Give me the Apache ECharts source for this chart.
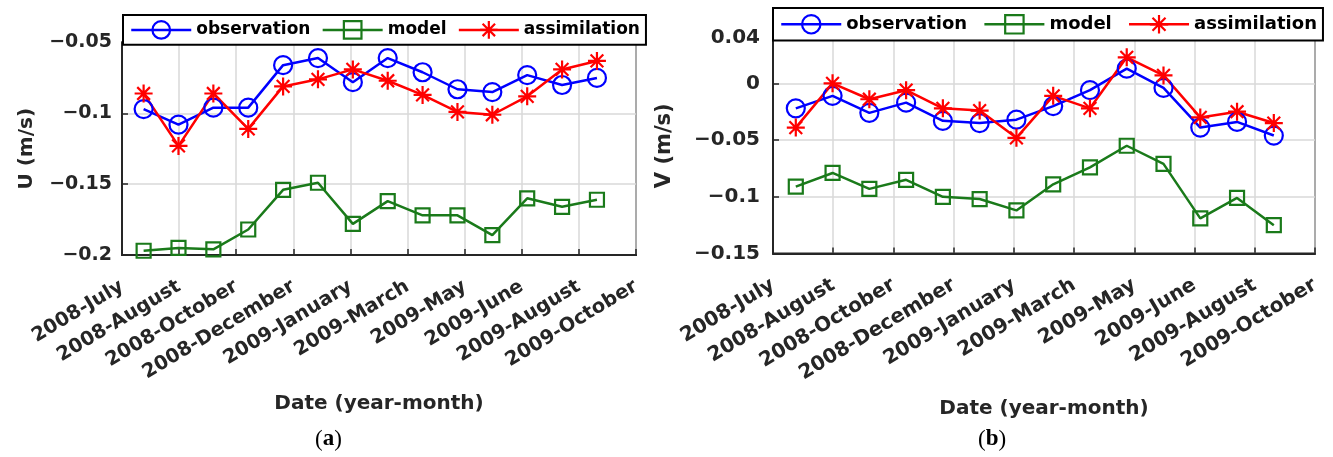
<!DOCTYPE html>
<html lang="en">
<head>
    <meta charset="UTF-8">
    <title>U and V: observation, model, assimilation</title>
    <style>
        html, body { margin: 0; padding: 0; background: #fff; }
        #main { width: 1333px; height: 457px; }
    </style>
    <script src="https://cdn.jsdelivr.net/npm/echarts@6/dist/echarts.min.js"></script>
</head>
<body>
    <div id="main"></div>
    <script>
        // tick labels on the date axis (10 ticks, 14 samples)
        var dateLabels = ['2008-July', '2008-August', '2008-October', '2008-December', '2009-January',
            '2009-March', '2009-May', '2009-June', '2009-August', '2009-October'];

        // panel (a): U (m/s)
        var uObservation = [-0.097, -0.108, -0.096, -0.096, -0.066, -0.061, -0.078, -0.061, -0.071, -0.083, -0.085, -0.073, -0.080, -0.075];
        var uModel = [-0.197, -0.195, -0.196, -0.182, -0.154, -0.149, -0.178, -0.162, -0.172, -0.172, -0.186, -0.160, -0.166, -0.161];
        var uAssimilation = [-0.086, -0.123, -0.086, -0.111, -0.081, -0.076, -0.069, -0.077, -0.087, -0.099, -0.101, -0.088, -0.069, -0.063];

        // panel (b): V (m/s)
        var vObservation = [-0.022, -0.011, -0.026, -0.017, -0.033, -0.035, -0.032, -0.020, -0.006, 0.013, -0.004, -0.039, -0.034, -0.046];
        var vModel = [-0.091, -0.079, -0.093, -0.085, -0.100, -0.102, -0.112, -0.089, -0.074, -0.055, -0.071, -0.119, -0.101, -0.125];
        var vAssimilation = [-0.039, 0.000, -0.014, -0.006, -0.022, -0.024, -0.048, -0.011, -0.022, 0.023, 0.007, -0.030, -0.025, -0.035];

        var FONT = 'DejaVu Sans';
        var INK = '#262626';
        var STAR = 'path://M0,-10L0,10M-10,0L10,0M-7.07,-7.07L7.07,7.07M-7.07,7.07L7.07,-7.07';

        function pairs(arr) {
            return arr.map(function (v, i) { return [i + 1, v]; });
        }
        function fmtTick(v) {
            var r = Math.round(v * 100) / 100;
            return r === 0 ? '0' : String(r).replace('-', '\u2212');
        }

        var styles = {
            observation: { color: '#0000ff', symbol: 'circle', size: 18 },
            model: { color: '#1a7a1a', symbol: 'rect', size: 14 },
            assimilation: { color: '#ff0000', symbol: STAR, size: 18 }
        };

        function makeSeries(name, data, idx) {
            var s = styles[name];
            return {
                name: name,
                type: 'line',
                xAxisIndex: idx * 2 + 1,
                yAxisIndex: idx,
                data: pairs(data),
                symbol: s.symbol,
                symbolSize: s.size,
                showAllSymbol: true,
                animation: false,
                lineStyle: { color: s.color, width: 2.5 },
                itemStyle: { color: 'rgba(0,0,0,0)', borderColor: s.color, borderWidth: 2.2 }
            };
        }

        function catAxis(grid, fontSize) {
            return {
                type: 'category',
                gridIndex: grid,
                data: dateLabels,
                boundaryGap: false,
                name: 'Date (year-month)',
                nameLocation: 'middle',
                nameGap: grid === 0 ? 139 : 145,
                nameTextStyle: { fontFamily: FONT, fontWeight: 'bold', fontSize: 20, color: INK },
                axisLine: { onZero: false, lineStyle: { color: INK, width: 2 } },
                axisTick: { show: true, inside: true, length: 6, lineStyle: { color: INK, width: 1.5 } },
                axisLabel: { interval: 0, rotate: 31, margin: 30, fontFamily: FONT, fontWeight: 'bold', fontSize: fontSize, color: INK },
                splitLine: { show: true, lineStyle: { color: '#d9d9d9', width: 1.5 } }
            };
        }
        function posAxis(grid) {
            return { type: 'value', gridIndex: grid, min: 0.38, max: 15.12, show: false };
        }
        function valAxis(grid, name, min, max, gap, margin, fontSize) {
            return {
                type: 'value',
                gridIndex: grid,
                min: min,
                max: max,
                interval: 0.05,
                name: name,
                nameLocation: 'middle',
                nameGap: gap,
                nameTextStyle: { fontFamily: FONT, fontWeight: 'bold', fontSize: fontSize + 1, color: INK },
                axisLine: { show: true, onZero: false, lineStyle: { color: INK, width: 2 } },
                axisTick: { show: true, inside: true, length: 6, lineStyle: { color: INK, width: 1.5 } },
                axisLabel: { margin: margin, fontFamily: FONT, fontWeight: 'bold', fontSize: fontSize, color: INK, formatter: fmtTick },
                splitLine: { show: true, lineStyle: { color: '#d9d9d9', width: 1.5 } }
            };
        }
        function legendBox(left, top, fontSize, itemH, gap, padV) {
            return {
                left: left,
                top: top,
                orient: 'horizontal',
                data: ['observation', 'model', 'assimilation'],
                itemWidth: 60,
                itemHeight: itemH,
                itemGap: gap,
                padding: [padV, 6, padV, 7],
                backgroundColor: '#fff',
                borderColor: '#000',
                borderWidth: 2,
                borderRadius: 0,
                selectedMode: false,
                lineStyle: { width: 2.5 },
                itemStyle: { borderWidth: 2.2 },
                textStyle: { fontFamily: FONT, fontWeight: 'bold', fontSize: fontSize, color: '#000' }
            };
        }

        var myChart = echarts.init(document.getElementById('main'), null, { renderer: 'canvas' });

        var option = {
            backgroundColor: '#fff',
            animation: false,
            grid: [
                { left: 122, top: 42.5, width: 514, height: 212.5, show: true, borderColor: INK, borderWidth: 2, backgroundColor: '#fff' },
                { left: 773, top: 38, width: 542, height: 215.5, show: true, borderColor: INK, borderWidth: 2, backgroundColor: '#fff' }
            ],
            xAxis: [catAxis(0, 19.5), posAxis(0), catAxis(1, 20), posAxis(1)],
            yAxis: [
                valAxis(0, 'U (m/s)', -0.2, -0.05, 85, 10, 19),
                valAxis(1, 'V (m/s)', -0.15, 0.04, 98, 13, 20)
            ],
            legend: [legendBox(123, 15, 17, 22, 11, 5), legendBox(773, 8, 18, 23, 16, 6)],
            series: [
                makeSeries('observation', uObservation, 0),
                makeSeries('model', uModel, 0),
                makeSeries('assimilation', uAssimilation, 0),
                makeSeries('observation', vObservation, 1),
                makeSeries('model', vModel, 1),
                makeSeries('assimilation', vAssimilation, 1)
            ],
            graphic: [
                {
                    type: 'text', left: 315, top: 428,
                    style: {
                        text: '{p|(}{b|a}{p|)}',
                        rich: {
                            p: { fontFamily: 'Liberation Serif', fontSize: 23, fill: '#000' },
                            b: { fontFamily: 'Liberation Serif', fontWeight: 'bold', fontSize: 23, fill: '#000' }
                        }
                    }
                },
                {
                    type: 'text', left: 978, top: 428,
                    style: {
                        text: '{p|(}{b|b}{p|)}',
                        rich: {
                            p: { fontFamily: 'Liberation Serif', fontSize: 23, fill: '#000' },
                            b: { fontFamily: 'Liberation Serif', fontWeight: 'bold', fontSize: 23, fill: '#000' }
                        }
                    }
                }
            ]
        };

        myChart.setOption(option);
    </script>
</body>
</html>
